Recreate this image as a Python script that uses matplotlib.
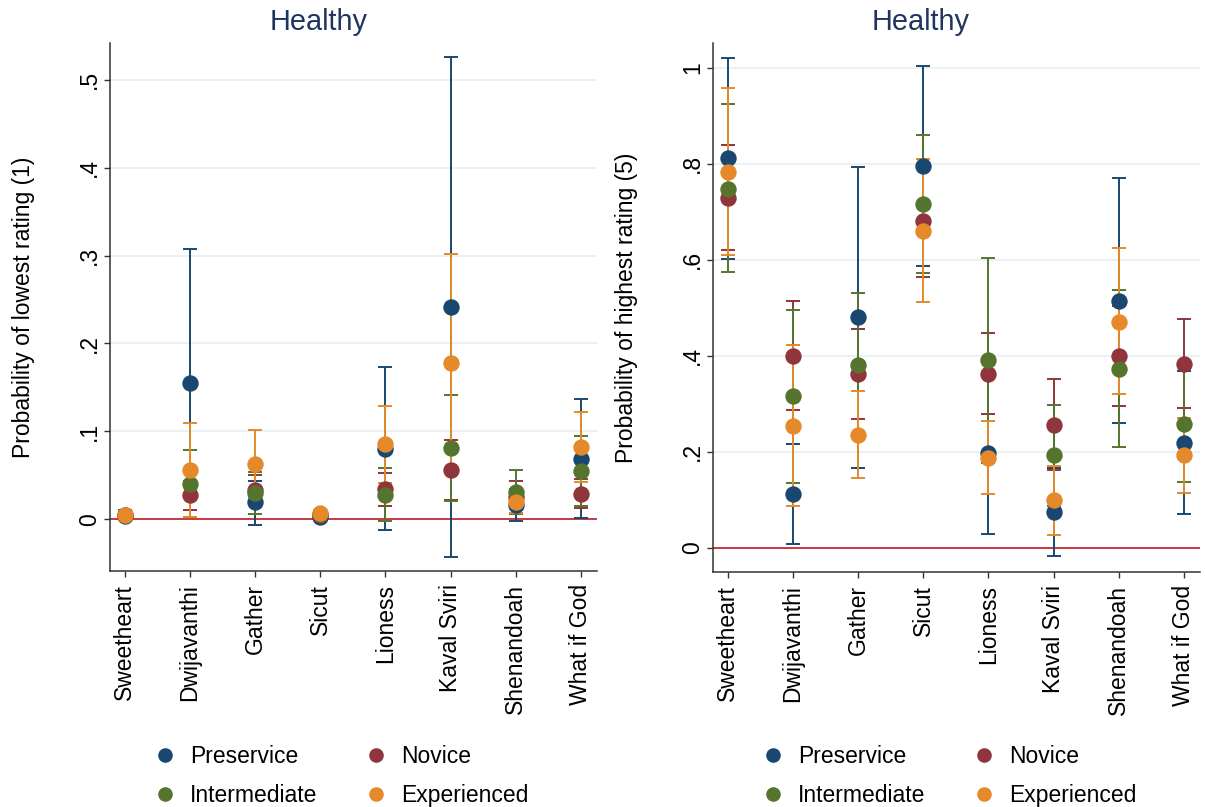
import matplotlib
matplotlib.use("Agg")
import matplotlib.pyplot as plt
from matplotlib.lines import Line2D
import numpy as np

plt.rcParams['font.family'] = ['Liberation Sans', 'DejaVu Sans']

categories = ["Sweetheart", "Dwijavanthi", "Gather", "Sicut", "Lioness",
              "Kaval Sviri", "Shenandoah", "What if God"]
groups = ["Preservice", "Novice", "Intermediate", "Experienced"]

# Left panel: probability of lowest rating (1)
low_pre_mean = [0.004, 0.155, 0.019, 0.003, 0.080, 0.241, 0.016, 0.069]
low_pre_lo   = [0.000, 0.002, -0.007, -0.001, -0.012, -0.043, -0.002, 0.001]
low_pre_hi   = [0.008, 0.308, 0.044, 0.007, 0.173, 0.526, 0.034, 0.137]
low_nov_mean = [0.005, 0.027, 0.033, 0.005, 0.034, 0.056, 0.025, 0.029]
low_nov_lo   = [0.000, 0.010, 0.016, 0.001, 0.015, 0.022, 0.007, 0.0125]
low_nov_hi   = [0.010, 0.044, 0.050, 0.009, 0.052, 0.090, 0.043, 0.0456]
low_int_mean = [0.005, 0.040, 0.030, 0.006, 0.027, 0.081, 0.031, 0.055]
low_int_lo   = [0.000, 0.002, 0.006, 0.001, -0.002, 0.021, 0.006, 0.015]
low_int_hi   = [0.010, 0.079, 0.054, 0.011, 0.058, 0.141, 0.056, 0.095]
low_exp_mean = [0.005, 0.056, 0.063, 0.007, 0.085, 0.178, 0.020, 0.082]
low_exp_lo   = [0.001, 0.003, 0.025, 0.003, 0.041, 0.054, 0.007, 0.042]
low_exp_hi   = [0.009, 0.109, 0.101, 0.011, 0.129, 0.302, 0.033, 0.122]

# Right panel: probability of highest rating (5)
high_pre_mean = [0.812, 0.112, 0.480, 0.796, 0.197, 0.074, 0.515, 0.219]
high_pre_lo   = [0.602, 0.008, 0.166, 0.588, 0.028, -0.018, 0.260, 0.069]
high_pre_hi   = [1.021, 0.216, 0.794, 1.004, 0.366, 0.166, 0.770, 0.369]
high_nov_mean = [0.728, 0.400, 0.362, 0.680, 0.362, 0.256, 0.400, 0.383]
high_nov_lo   = [0.620, 0.286, 0.269, 0.565, 0.278, 0.162, 0.296, 0.291]
high_nov_hi   = [0.840, 0.515, 0.456, 0.795, 0.447, 0.352, 0.504, 0.477]
high_int_mean = [0.748, 0.315, 0.381, 0.717, 0.390, 0.192, 0.372, 0.258]
high_int_lo   = [0.574, 0.135, 0.231, 0.572, 0.177, 0.086, 0.209, 0.137]
high_int_hi   = [0.924, 0.496, 0.531, 0.861, 0.603, 0.298, 0.537, 0.379]
high_exp_mean = [0.784, 0.254, 0.235, 0.661, 0.187, 0.099, 0.471, 0.192]
high_exp_lo   = [0.609, 0.086, 0.144, 0.511, 0.112, 0.027, 0.321, 0.114]
high_exp_hi   = [0.959, 0.423, 0.326, 0.811, 0.263, 0.171, 0.624, 0.270]

low_ticks = [0, 0.1, 0.2, 0.3, 0.4, 0.5]
low_ticklabels = ["0", ".1", ".2", ".3", ".4", ".5"]
high_ticks = [0, 0.2, 0.4, 0.6, 0.8, 1.0]
high_ticklabels = ["0", ".2", ".4", ".6", ".8", "1"]

colors = ["#1a476f", "#90353b", "#55752f", "#e5892b"]
title_color = "#1f3560"

W, H = 1205, 807
fig = plt.figure(figsize=(W / 100, H / 100), dpi=100)
fig.patch.set_facecolor("white")


def px_axes(x0, x1, y0, y1):
    return fig.add_axes([x0 / W, 1 - y1 / H, (x1 - x0) / W, (y1 - y0) / H])


panels = [
    dict(rect=(110, 597, 43, 571), ylim=(-0.059, 0.542),
         data=[(low_pre_mean, low_pre_lo, low_pre_hi),
               (low_nov_mean, low_nov_lo, low_nov_hi),
               (low_int_mean, low_int_lo, low_int_hi),
               (low_exp_mean, low_exp_lo, low_exp_hi)],
         ticks=low_ticks, ticklabels=low_ticklabels,
         ylabel="Probability of lowest rating (1)", title_x=319,
         leg_x=153.5),
    dict(rect=(713, 1200, 43, 572), ylim=(-0.051, 1.052),
         data=[(high_pre_mean, high_pre_lo, high_pre_hi),
               (high_nov_mean, high_nov_lo, high_nov_hi),
               (high_int_mean, high_int_lo, high_int_hi),
               (high_exp_mean, high_exp_lo, high_exp_hi)],
         ticks=high_ticks, ticklabels=high_ticklabels,
         ylabel="Probability of highest rating (5)", title_x=921,
         leg_x=761.5),
]

x = np.arange(1, len(categories) + 1)

for p in panels:
    ax = px_axes(*p["rect"])
    ax.set_xlim(0.77, 8.25)
    ax.set_ylim(*p["ylim"])
    # grid
    for t in p["ticks"][1:]:
        ax.axhline(t, color="#e6eff2", lw=1.2, zorder=0)
    ax.axhline(0, color="#c8383f", lw=1.4, zorder=1)
    # error bars first
    for (m, lo, hi), c in zip(p["data"], colors):
        m = np.array(m); lo = np.array(lo); hi = np.array(hi)
        ax.errorbar(x, m, yerr=[m - lo, hi - m], fmt="none", ecolor=c,
                    elinewidth=1.4, capsize=5, capthick=1.4, zorder=2)
    handles = []
    for (m, lo, hi), c, g in zip(p["data"], colors, groups):
        h, = ax.plot(x, m, "o", color=c, markersize=11.8,
                     markeredgewidth=0, zorder=3, label=g)
        handles.append(h)
    for s in ["top", "right"]:
        ax.spines[s].set_visible(False)
    for s in ["left", "bottom"]:
        ax.spines[s].set_color("#333333")
        ax.spines[s].set_linewidth(1.1)
    ax.set_xticks(x)
    ax.set_xticklabels(categories, rotation=90, fontsize=16.5)
    ax.set_yticks(p["ticks"])
    ax.set_yticklabels(p["ticklabels"], rotation=90, fontsize=16.5,
                       va="center")
    ax.tick_params(axis="both", length=4.5, width=1.0, color="#333333")
    ax.tick_params(axis="x", pad=5)
    ax.tick_params(axis="y", pad=2)
    ax.set_ylabel(p["ylabel"], fontsize=16.5)
    ax.yaxis.set_label_coords(-0.154, 0.5)
    fig.text(p["title_x"] / W, 1 - 22 / H, "Healthy", fontsize=20.8,
             color=title_color, ha="center", va="center")
    leg_handles = [Line2D([], [], marker="o", linestyle="none", color=c,
                          markersize=10.5, markeredgewidth=0) for c in colors]
    # column-major fill: reorder so rows read Preservice/Novice, Intermediate/Experienced
    order = [0, 2, 1, 3]
    ax.legend([leg_handles[i] for i in order], [groups[i] for i in order],
              loc="center left",
              bbox_to_anchor=(p["leg_x"] / W, 1 - 776 / H),
              bbox_transform=fig.transFigure, ncol=2, frameon=False,
              fontsize=16.5, handlelength=1.0, handletextpad=0.6,
              columnspacing=2.04, borderpad=0, borderaxespad=0,
              labelspacing=0.72)

fig.savefig("out.png", dpi=100, facecolor="white")
